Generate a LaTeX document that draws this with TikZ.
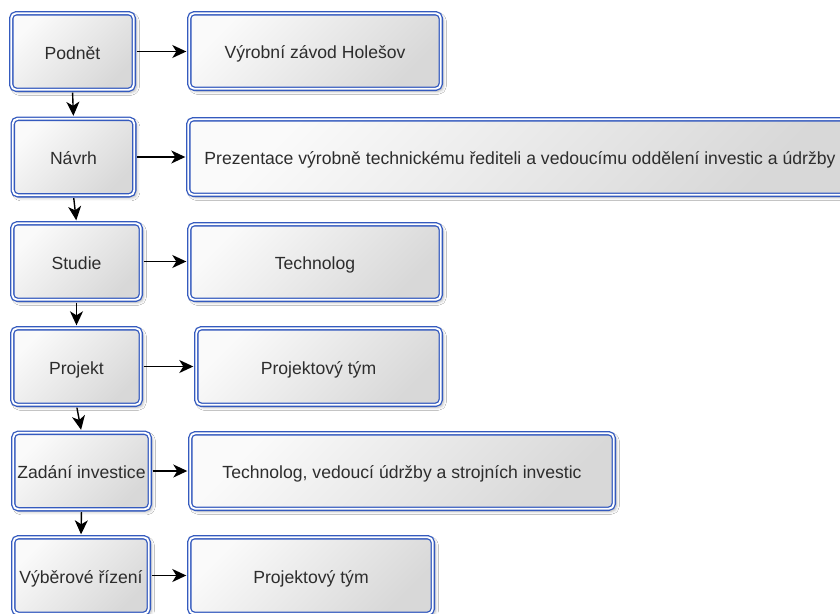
\documentclass[tikz,border=0pt]{standalone}
\usepackage{fontspec}
\setmainfont{Liberation Sans}
\usetikzlibrary{arrows.meta,shadows.blur}

\definecolor{boxblue}{RGB}{52,90,190}
\definecolor{boxlight}{RGB}{250,250,250}
\definecolor{boxdark}{RGB}{216,216,216}
\definecolor{txt}{RGB}{45,45,45}

\tikzset{
  stage/.style={
    draw=boxblue, double=white, double distance=1.9pt, line width=1.3pt,
    rounded corners=5pt,
    top color=boxlight, bottom color=boxdark, shading angle=45,
    blur shadow={shadow xshift=2.5pt, shadow yshift=-2.5pt,
                 shadow blur radius=3pt, shadow opacity=30},
    font=\fontsize{17.6}{20}\selectfont, text=txt,
    text height=15pt, text depth=0pt,
    inner sep=0pt, minimum height=76.5pt},
  link/.style={-{Stealth[length=14pt,width=13pt,inset=4pt]},
    line width=1.4pt, black, shorten >=2.3pt, shorten <=2.3pt},
}

\begin{document}
\begin{tikzpicture}[x=1pt,y=-1pt]
  \path[use as bounding box] (0,0) rectangle (840,613);
  \fill[white] (0,0) rectangle (840,613);
  \clip (0,0) rectangle (840,613);

  % process stages (left column)
  \node[stage, minimum width=122.5pt] (s1) at (72.5,51.5) {Podnět};
  \node[stage, minimum width=121.5pt] (s2) at (73.5,157) {Návrh};
  \node[stage, minimum width=128.5pt] (s3) at (76.5,261.5) {Studie};
  \node[stage, minimum width=128.5pt] (s4) at (76.5,366.5) {Projekt};
  \node[stage, minimum width=136.5pt] (s5) at (81.5,471) {Zadání investice};
  \node[stage, minimum width=135.5pt] (s6) at (81,575.5) {Výběrové řízení};

  % responsible parties (right column)
  \node[stage, minimum width=251.5pt, minimum height=75.5pt] (r1) at (315,51) {Výrobní závod Holešov};
  \node[stage, minimum width=663.5pt, minimum height=75.5pt] (r2) at (520,157) {Prezentace výrobně technickému řediteli a vedoucímu oddělení investic a údržby};
  \node[stage, minimum width=251.5pt, minimum height=75.5pt] (r3) at (315,262) {Technolog};
  \node[stage, minimum width=244.5pt] (r4) at (318.5,366.5) {Projektový tým};
  \node[stage, minimum width=423.5pt, minimum height=75.5pt] (r5) at (402,471) {Technolog, vedoucí údržby a strojních investic};
  \node[stage, minimum width=243.5pt] (r6) at (311,575.5) {Projektový tým};

  % sequence of stages
  \draw[link] (s1.south) -- (s2.north);
  \draw[link] (s2.south) -- (s3.north);
  \draw[link] (s3.south) -- (s4.north);
  \draw[link] (s4.south) -- (s5.north);
  \draw[link] (s5.south) -- (s6.north);

  % stage to party
  \draw[link] (s1.east) -- (s1.east -| r1.west);
  \draw[link] (s2.east) -- (s2.east -| r2.west);
  \draw[link] (s3.east) -- (s3.east -| r3.west);
  \draw[link] (s4.east) -- (s4.east -| r4.west);
  \draw[link] (s5.east) -- (s5.east -| r5.west);
  \draw[link] (s6.east) -- (s6.east -| r6.west);
\end{tikzpicture}
\end{document}
